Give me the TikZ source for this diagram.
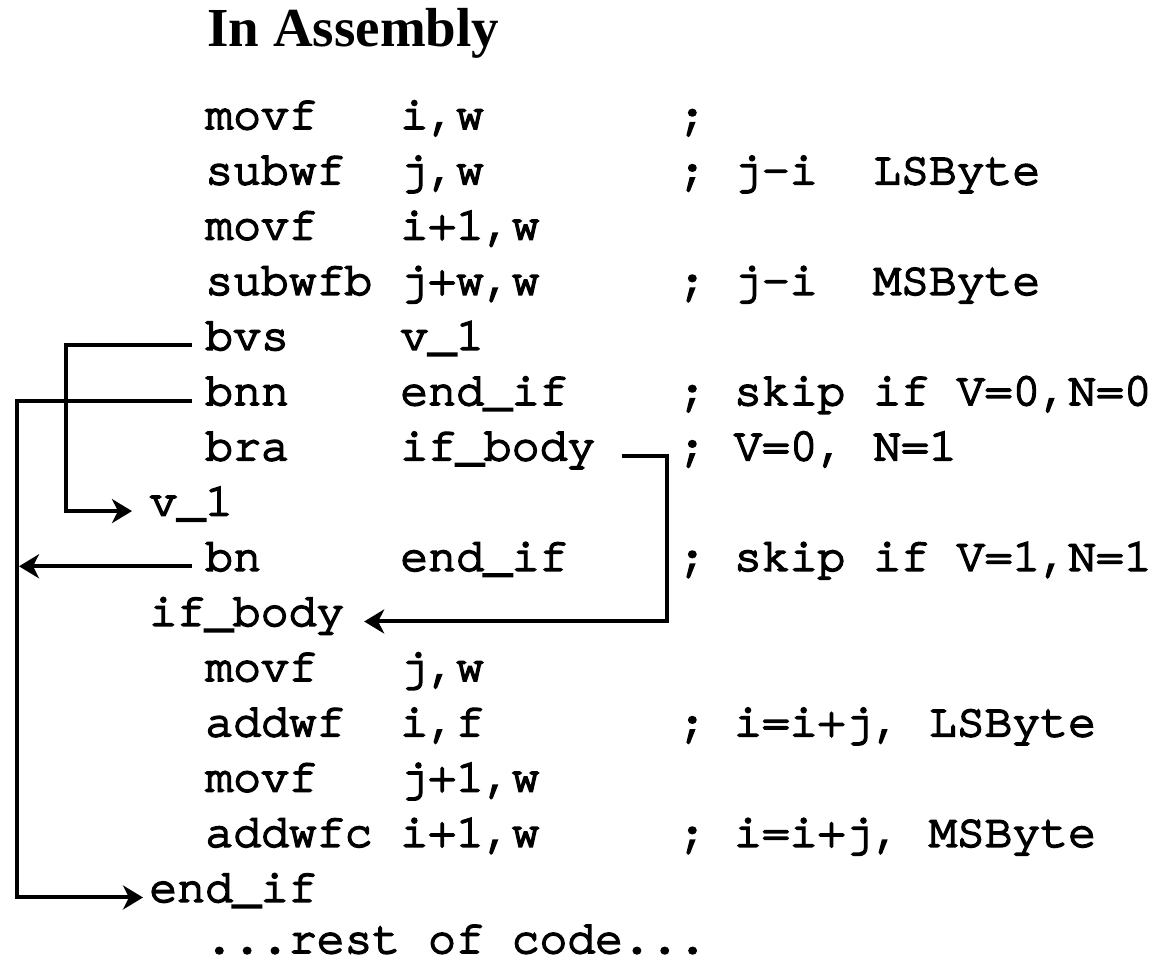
\documentclass[tikz,border=0pt]{standalone}
\usepackage{fontspec}
\usetikzlibrary{arrows.meta, positioning, calc}

\newfontfamily\titleserif{Liberation Serif}
\newcommand{\titlefont}{\titleserif\bfseries\fontsize{27.5}{33}\selectfont}
% Courier face for the listing, slightly emboldened
\newfontfamily\asmface{texgyrecursor-regular.otf}[UprightFeatures={FakeBold=4}, WordSpace={1,0,0}, Ligatures=ResetAll]
\newcommand{\asmfont}{\asmface\fontsize{23.2}{28}\selectfont\frenchspacing}

\begin{document}
\begin{tikzpicture}[x=0.5pt, y=-0.5pt,
        asm/.style={font=\asmfont, inner sep=0pt, anchor=base west},
        flow/.style={-{Stealth[length=10pt, width=12pt, inset=3pt]}, line width=2pt}
    ]
    \useasboundingbox (0,0) rectangle (1160,961);

    \node[font=\titlefont, inner sep=0pt, anchor=base west] (title) at (207,47) {In Assembly};

    % columns: label 149, opcode 205, operand 400, comment 678
    \node[asm] (op1)  at (205,129.0) {movf};
    \node[asm] (arg1) at (400,129.0) {i,w};
    \node[asm] (cmt1) at (678,129.0) {;};

    \node[asm] (op2)  at (205,184.2) {subwf};
    \node[asm] (arg2) at (400,184.2) {j,w};
    \node[asm] (cmt2) at (678,184.2) {; j-i~ LSByte};

    \node[asm] (op3)  at (205,239.4) {movf};
    \node[asm] (arg3) at (400,239.4) {i+1,w};

    \node[asm] (op4)  at (205,294.6) {subwfb};
    \node[asm] (arg4) at (400,294.6) {j+w,w};
    \node[asm] (cmt4) at (678,294.6) {; j-i~ MSByte};

    \node[asm] (bvs)    at (205,349.8) {bvs};
    \node[asm] (bvsarg) at (400,349.8) {v\_1};

    \node[asm] (bnn)    at (205,405.0) {bnn};
    \node[asm] (bnnarg) at (400,405.0) {end\_if};
    \node[asm] (cmt6)   at (678,405.0) {; skip if V=0,N=0};

    \node[asm] (bra)    at (205,460.2) {bra};
    \node[asm] (braarg) at (400,460.2) {if\_body};
    \node[asm] (cmt7)   at (678,460.2) {; V=0, N=1};

    \node[asm] (vone) at (149,515.4) {v\_1};

    \node[asm] (bn)    at (205,570.6) {bn};
    \node[asm] (bnarg) at (400,570.6) {end\_if};
    \node[asm] (cmt9)  at (678,570.6) {; skip if V=1,N=1};

    \node[asm] (ifbody) at (149,625.8) {if\_body};

    \node[asm] (op11)  at (205,681.0) {movf};
    \node[asm] (arg11) at (400,681.0) {j,w};

    \node[asm] (op12)  at (205,736.2) {addwf};
    \node[asm] (arg12) at (400,736.2) {i,f};
    \node[asm] (cmt12) at (678,736.2) {; i=i+j, LSByte};

    \node[asm] (op13)  at (205,791.4) {movf};
    \node[asm] (arg13) at (400,791.4) {j+1,w};

    \node[asm] (op14)  at (205,846.6) {addwfc};
    \node[asm] (arg14) at (400,846.6) {i+1,w};
    \node[asm] (cmt14) at (678,846.6) {; i=i+j, MSByte};

    \node[asm] (endif) at (149,901.8) {end\_if};

    \node[asm] (rest) at (205,953.0) {...rest of code...};

    % rails the branch lines run along
    \coordinate (railA) at (66,0);
    \coordinate (railB) at (17,0);
    \coordinate (railC) at (667,0);

    \draw[flow, shorten <=6.5pt, shorten >=8.5pt] (bvs.mid west) -- (bvs.mid west -| railA) |- (vone.mid west);
    \draw[flow, shorten <=6.5pt, shorten >=3pt] (bnn.mid west) -- (bnn.mid west -| railB) |- (endif.mid west);
    \draw[flow, shorten <=6.5pt, shorten >=1pt] (bn.mid west) -- (bn.mid west -| railB);
    \draw[flow, shorten <=13pt, shorten >=9.75pt] (braarg.mid east) -- (braarg.mid east -| railC) |- (ifbody.mid east);
\end{tikzpicture}
\end{document}
